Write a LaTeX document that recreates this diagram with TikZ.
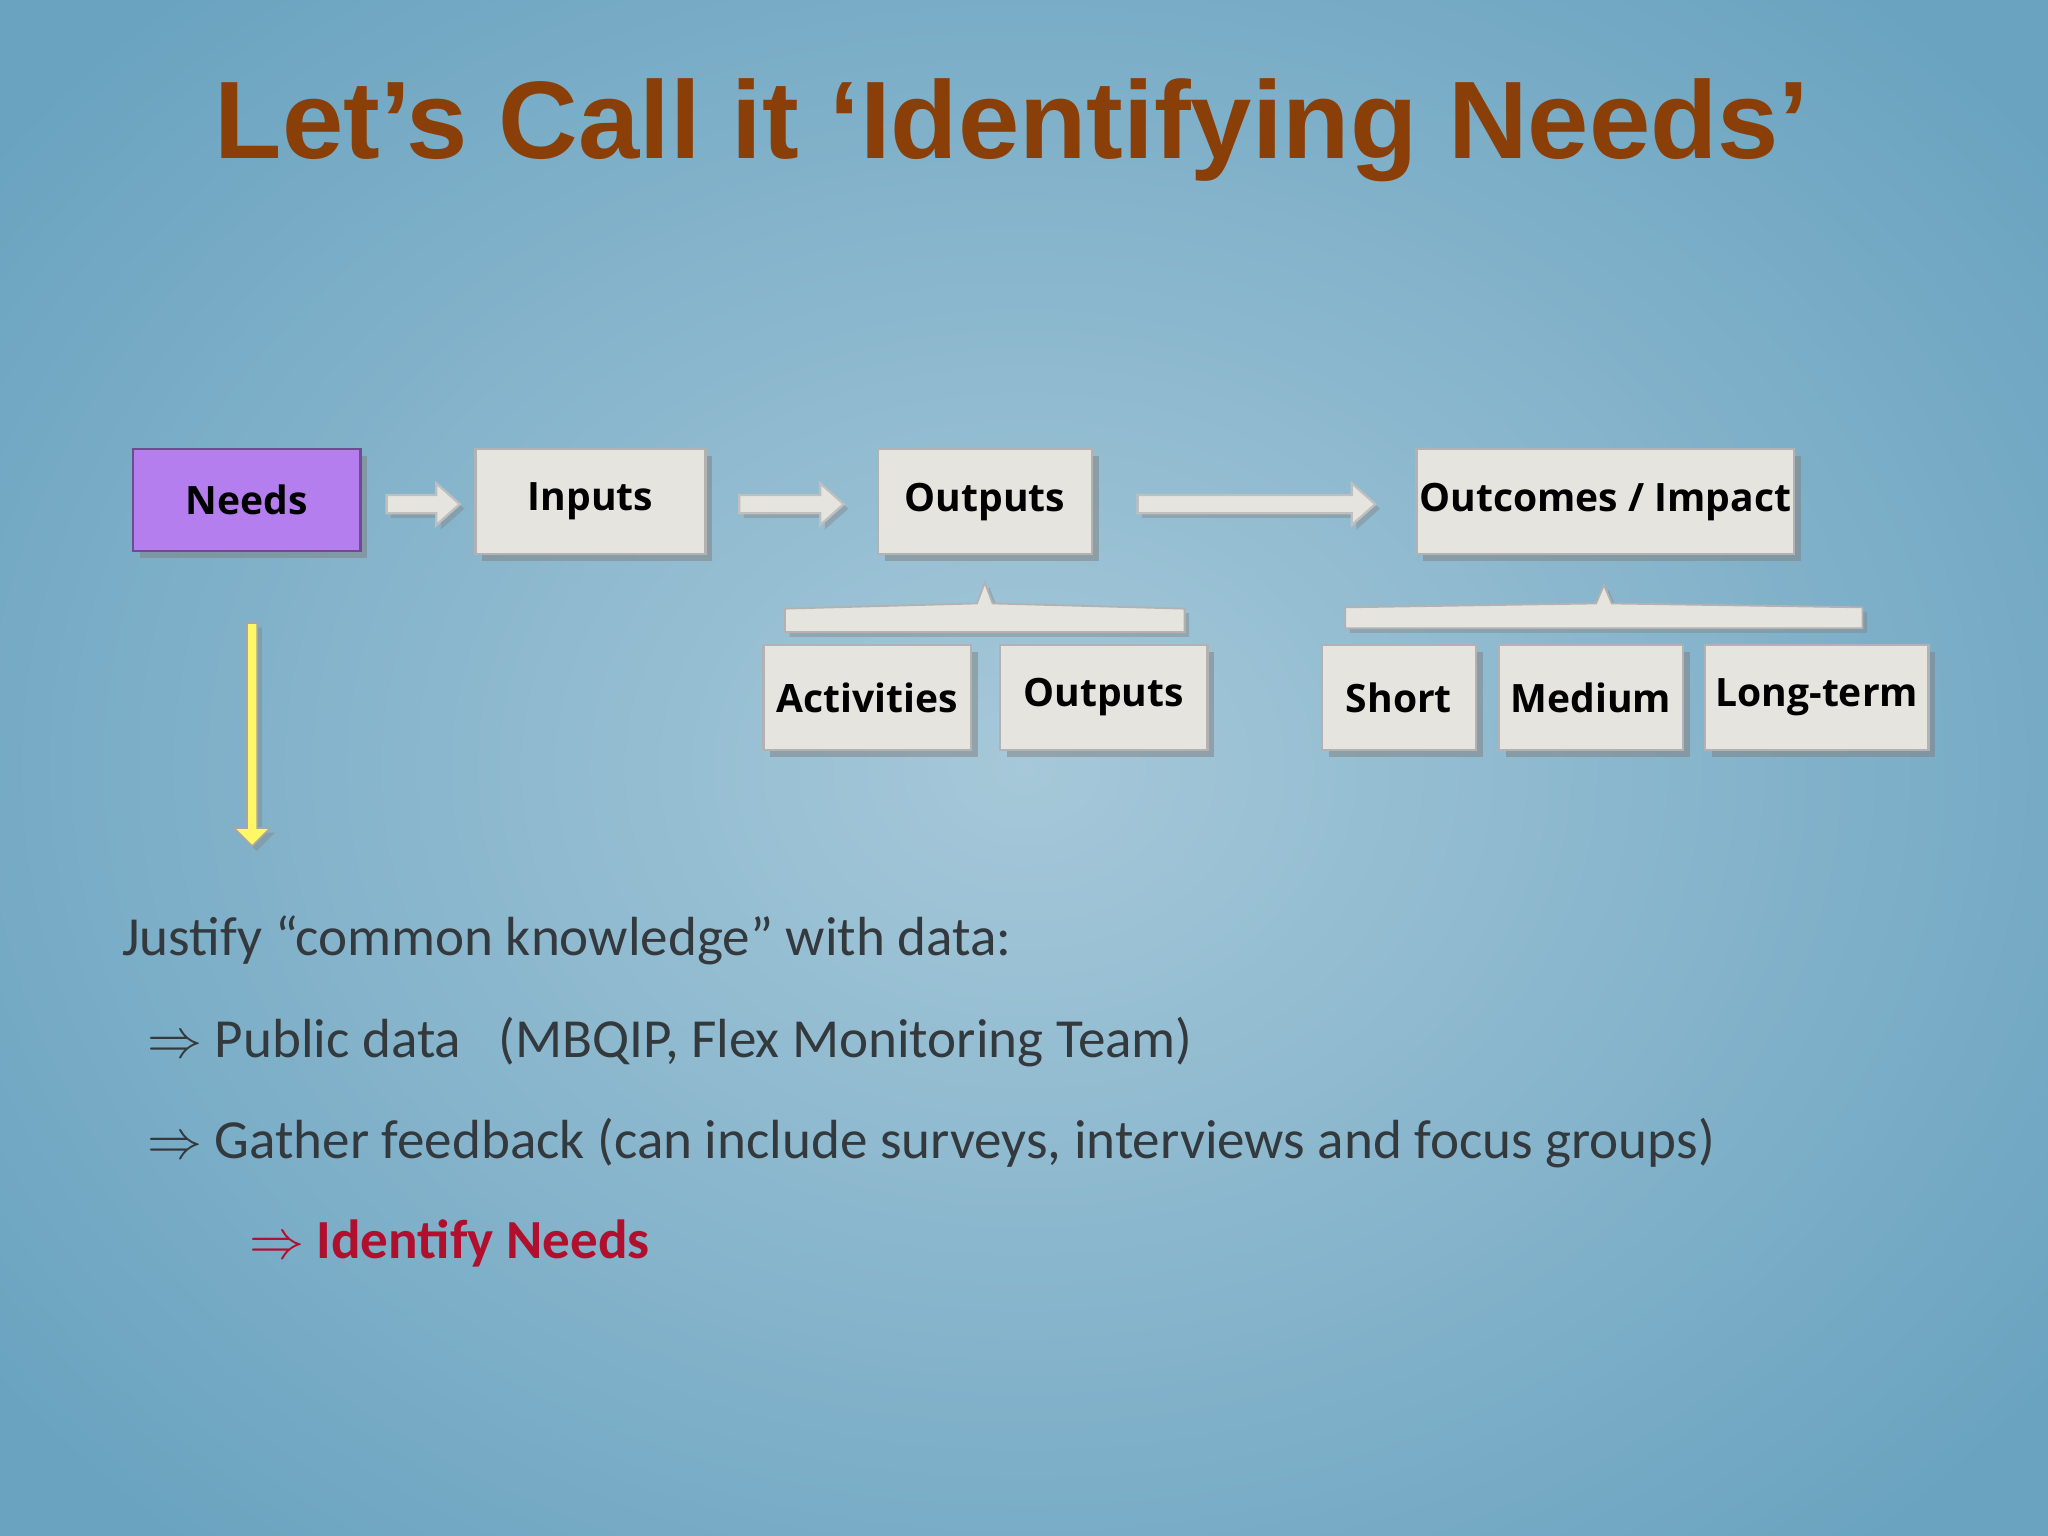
\documentclass[tikz,border=0pt]{standalone}
\usepackage{fontspec}
\setmainfont{Carlito}
\newfontfamily\titlefont{Liberation Sans}
\newfontfamily\boxfont{Open Sans}
\usetikzlibrary{shadows,arrows.meta}
\definecolor{bgin}{HTML}{A6C8D9}
\definecolor{bgout}{HTML}{6AA3C0}
\definecolor{titlec}{HTML}{8A3F08}
\definecolor{boxc}{HTML}{E6E4DE}
\definecolor{purp}{HTML}{B57EEE}
\definecolor{txt}{HTML}{33393D}
\definecolor{redc}{HTML}{B0102E}
\begin{document}
\begin{tikzpicture}[x=0.01cm,y=-0.01cm,
  bx/.style={draw=gray!60,fill=boxc,line width=0.5pt,drop shadow={shadow xshift=1.5pt,shadow yshift=-1.5pt,opacity=0.5},inner sep=0pt,font=\boxfont\bfseries\fontsize{8.5pt}{10pt}\selectfont,text=black,minimum height=0.8cm},
  barc/.style={draw=gray!60,fill=boxc,drop shadow={shadow xshift=1pt,shadow yshift=-1pt,opacity=0.4}},
  blk/.style={draw=gray!50,fill=boxc,line width=0.5pt,drop shadow={shadow xshift=1pt,shadow yshift=-1pt,opacity=0.4}},
  body/.style={anchor=west,text=txt,inner sep=0pt,font=\fontsize{12pt}{14pt}\selectfont}]
\useasboundingbox (0,0) rectangle (1568,1176);
\begin{scope}
\clip (0,0) rectangle (1568,1176);
\shade[inner color=bgin,outer color=bgout] (-200,-200) rectangle (1768,1376);
\end{scope}
\node[text=titlec,font=\titlefont\bfseries\fontsize{24pt}{30pt}\selectfont] (title) at (775,100) {Let’s Call it ‘Identifying Needs’};
% top row
\node[bx,fill=purp,draw=purp!60!black,minimum width=1.74cm,minimum height=0.78cm] (needs) at (189,383) {Needs};
\node[bx,minimum width=1.76cm] (inputs) at (452,384) {Inputs};
\node[bx,minimum width=1.64cm] (outputs) at (754,384) {Outputs};
\node[bx,minimum width=2.89cm] (outc) at (1229,384) {Outcomes / Impact};
% bottom row
\node[bx,minimum width=1.59cm] (act) at (664,534) {Activities};
\node[bx,minimum width=1.59cm] (out2) at (845,534) {Outputs};
\node[bx,minimum width=1.18cm] (short) at (1071,534) {Short};
\node[bx,minimum width=1.41cm] (med) at (1218,534) {Medium};
\node[bx,minimum width=1.71cm] (long) at (1391,534) {Long-term};
% brackets
\draw[barc] (601,484) -- (601,466) -- (748,462) -- (754,446) -- (760,462) -- (907,466) -- (907,484) -- cycle;
\draw[barc] (1030,481) -- (1030,465) -- (1222,462) -- (1228,448) -- (1234,462) -- (1426,465) -- (1426,481) -- cycle;
% block arrows
\draw[blk] (296,379) -- (334,379) -- (334,370) -- (352,386) -- (334,402) -- (334,393) -- (296,393) -- cycle;
\draw[blk] (566,379) -- (628,379) -- (628,370) -- (646,386) -- (628,402) -- (628,393) -- (566,393) -- cycle;
\draw[blk] (871,379) -- (1035,379) -- (1035,370) -- (1053,386) -- (1035,402) -- (1035,393) -- (871,393) -- cycle;
% yellow arrow
\draw[draw=gray!70,fill=yellow!60!white,line width=0.4pt,drop shadow={shadow xshift=1pt,shadow yshift=-1pt,opacity=0.4}] (189,477) -- (197,477) -- (197,634) -- (207,634) -- (193,648) -- (179,634) -- (189,634) -- cycle;
% text
\node[body] (t1) at (93,720) {Justify “common knowledge” with data:};
\node[body] (t2) at (112,798) {$\Rightarrow$ Public data\ \ \ (MBQIP, Flex Monitoring Team)};
\node[body] (t3) at (112,875) {$\Rightarrow$ Gather feedback (can include surveys, interviews and focus groups)};
\node[body,text=redc] (t4) at (190,952) {$\Rightarrow$ \textbf{Identify Needs}};
\end{tikzpicture}
\end{document}
